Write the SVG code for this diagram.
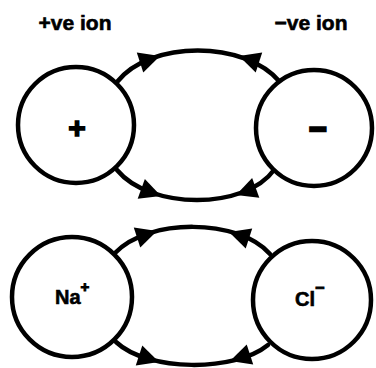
<svg xmlns="http://www.w3.org/2000/svg" width="376" height="368" viewBox="0 0 376 368">
<style>
.ion{fill:#fff;stroke:#000;stroke-width:4.5}
.arc{fill:none;stroke:#000;stroke-width:4.5;stroke-linecap:round}
.lbl{font-family:"Liberation Sans",Arial,sans-serif;font-weight:bold;fill:#000;stroke:#000;stroke-width:0.6}
</style>
<defs>
<path id="ah" d="M0,0 L-21,-10.5 L-21,10.5 Z" fill="#000"/>
</defs>
<rect width="376" height="368" fill="#fff"/>
<g id="connectors">
<path class="arc" d="M117,82 C150,40 245,40 280,82"/>
<path class="arc" d="M117,170 C150,210 245,210 274,170"/>
<path class="arc" d="M115,253 C148,218 238,218 270,254"/>
<path class="arc" d="M116,342 C148,372 235,372 268,345"/>
<use href="#ah" transform="translate(160,56) rotate(-18)"/>
<use href="#ah" transform="translate(239,56) rotate(198)"/>
<use href="#ah" transform="translate(161,196) rotate(20)"/>
<use href="#ah" transform="translate(236,195) rotate(160)"/>
<use href="#ah" transform="translate(157,231) rotate(-18)"/>
<use href="#ah" transform="translate(229,232) rotate(198)"/>
<use href="#ah" transform="translate(159,362) rotate(18)"/>
<use href="#ah" transform="translate(230,361) rotate(162)"/>
</g>
<g id="label-pos"><text class="lbl" x="75" y="30" font-size="21" text-anchor="middle">+ve ion</text></g>
<g id="label-neg"><text class="lbl" x="311" y="30" font-size="21" text-anchor="middle">−ve ion</text></g>
<g id="pos-ion">
<circle class="ion" cx="76" cy="125" r="58"/>
<text class="lbl" x="77" y="138" font-size="30" text-anchor="middle" style="stroke-width:1.5">+</text>
</g>
<g id="neg-ion">
<circle class="ion" cx="314" cy="128" r="58"/>
<text class="lbl" x="318" y="139" font-size="30" text-anchor="middle" style="stroke-width:2.5">−</text>
</g>
<g id="na-ion">
<circle class="ion" cx="72" cy="297" r="60"/>
<text class="lbl" x="55" y="304" font-size="20">Na<tspan font-size="15" dy="-12" style="stroke-width:1">+</tspan></text>
</g>
<g id="cl-ion">
<circle class="ion" cx="312" cy="300" r="59"/>
<text class="lbl" x="295" y="306" font-size="20">Cl<tspan font-size="16" dy="-13" style="stroke-width:1">−</tspan></text>
</g>
</svg>
